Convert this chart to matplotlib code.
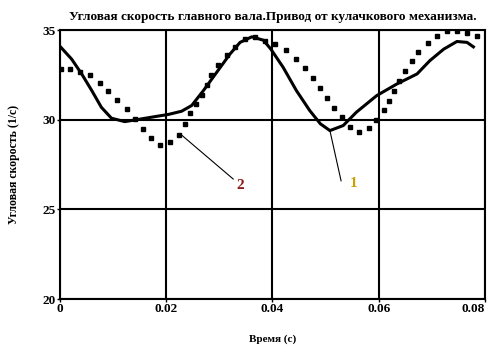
import matplotlib
matplotlib.use("Agg")
import matplotlib.pyplot as plt

# кривая 1 (сплошная)
t1 = [0.0002, 0.0022, 0.0041, 0.0060, 0.0078, 0.0097, 0.0122, 0.0147, 0.0179, 0.0204,
      0.0229, 0.0248, 0.0270, 0.0295, 0.0320, 0.0339, 0.0361, 0.0383, 0.0397, 0.0420,
      0.0445, 0.0470, 0.0490, 0.0508, 0.0533, 0.0558, 0.0596, 0.0634, 0.0672, 0.0696,
      0.0722, 0.0747, 0.0766, 0.0778]
w1 = [34.04, 33.39, 32.56, 31.63, 30.70, 30.09, 29.90, 30.02, 30.18, 30.30,
      30.48, 30.80, 31.63, 32.65, 33.67, 34.32, 34.63, 34.44, 33.94, 32.93,
      31.63, 30.52, 29.78, 29.40, 29.68, 30.43, 31.35, 32.00, 32.56, 33.30,
      33.94, 34.37, 34.32, 34.07]

# кривая 2 (точки)
t2 = [0.0002, 0.0019, 0.0038, 0.0056, 0.0075, 0.0091, 0.0108, 0.01255, 0.01405, 0.01556,
      0.0171, 0.0188, 0.0208, 0.0225, 0.0235, 0.0245, 0.0256, 0.0267, 0.0276, 0.0285,
      0.0298, 0.0314, 0.0330, 0.0348, 0.0367, 0.0386, 0.0405, 0.0425, 0.0444, 0.0461,
      0.0476, 0.0490, 0.0502, 0.0516, 0.0530, 0.0546, 0.0563, 0.0582, 0.0595, 0.0609,
      0.0620, 0.0628, 0.0638, 0.0649, 0.0662, 0.0674, 0.0692, 0.0710, 0.0729, 0.0748,
      0.0766, 0.0784]
w2 = [32.86, 32.86, 32.68, 32.50, 32.06, 31.60, 31.13, 30.60, 30.05, 29.50,
      28.98, 28.60, 28.74, 29.18, 29.76, 30.37, 30.90, 31.40, 31.96, 32.50,
      33.07, 33.63, 34.05, 34.50, 34.62, 34.40, 34.22, 33.89, 33.39, 32.87,
      32.33, 31.78, 31.22, 30.67, 30.15, 29.60, 29.32, 29.54, 29.98, 30.56,
      31.07, 31.63, 32.18, 32.70, 33.26, 33.80, 34.28, 34.68, 34.93, 34.93,
      34.82, 34.68]

x_ticks = [0, 0.02, 0.04, 0.06, 0.08]
x_labels = ["0", "0.02", "0.04", "0.06", "0.08"]
y_ticks = [20, 25, 30, 35]

plt.rcParams['font.family'] = ['Liberation Serif', 'DejaVu Serif']
plt.rcParams['font.weight'] = 'bold'

fig = plt.figure(figsize=(4.95, 3.47), dpi=100)
ax = fig.add_axes([0.121, 0.138, 0.859, 0.775])

ax.plot(t1, w1, color='black', linewidth=2.2, zorder=3)
ax.plot(t2, w2, linestyle='none', marker='s', markersize=2.8, color='black', zorder=3)

# выноски
ax.plot([0.0227, 0.0326], [29.2, 26.7], color='black', linewidth=0.8)
ax.text(0.0339, 26.35, "2", color='#8b1a1a', fontsize=11, ha='center', va='center')
ax.plot([0.0508, 0.0529], [29.4, 26.6], color='black', linewidth=0.8)
ax.text(0.0552, 26.45, "1", color='#c8a000', fontsize=11, ha='center', va='center')

ax.set_xlim(0, 0.08)
ax.set_ylim(20, 35)
ax.set_xticks(x_ticks)
ax.set_xticklabels(x_labels)
ax.get_xticklabels()[-1].set_horizontalalignment('right')
ax.set_yticks(y_ticks)
ax.grid(True, color='black', linewidth=1.5)
for s in ax.spines.values():
    s.set_linewidth(1.5)
ax.tick_params(axis='both', labelsize=9.5, length=2, width=1, pad=1)

ax.set_title("Угловая скорость главного вала.Привод от кулачкового механизма.",
             fontsize=9.5, fontweight='bold', pad=7)
ax.set_xlabel("Время (с)", fontsize=8, fontweight='bold', labelpad=14)
ax.set_ylabel("Угловая скорость (1/с)", fontsize=8.5, fontweight='bold', labelpad=16)

fig.savefig("out.png", dpi=100)
